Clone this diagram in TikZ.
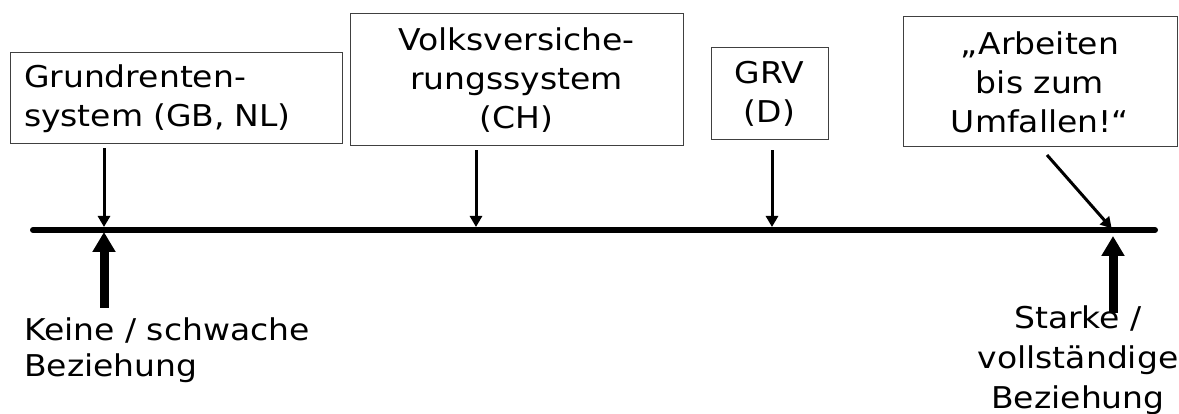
\documentclass[tikz,border=0pt]{standalone}
\usepackage{fontspec}
\setmainfont{DejaVu Sans}[FakeStretch=1.1]
\usetikzlibrary{arrows.meta}
\begin{document}
\begin{tikzpicture}[x=1pt,y=-1pt,
  box/.style={draw=black!75, line width=1pt, inner sep=0pt, align=center, font=\fontsize{30}{39}\selectfont},
  lbl/.style={inner sep=0pt},
  thinarrow/.style={line width=3pt, -{Triangle[width=12pt,length=11pt]}},
  thickarrow/.style={line width=9pt, -{Triangle[width=22pt,length=20pt]}},
  axisline/.style={line width=6pt, line cap=round}]
\useasboundingbox (0,0) rectangle (1179,414);
% axis
\coordinate (a0) at (33,230);
\coordinate (a1) at (1155,230);
\draw[axisline] (a0) -- (a1);
% points on the axis
\coordinate (p1) at (104,230);
\coordinate (p2) at (476,230);
\coordinate (p3) at (772,230);
\coordinate (p4) at (1113,230);
% boxes
\node[box, inner xsep=14pt, text width=304pt, align=left, minimum height=91pt] (b1) at (176,98.5) {Grundrenten-\\system (GB, NL)};
\node[box, minimum width=333pt, minimum height=132pt] (b2) at (516.5,80) {Volksversiche-\\rungssystem\\(CH)};
\node[box, minimum width=117pt, minimum height=92pt] (b3) at (769.5,94) {GRV\\(D)};
\node[box, minimum width=274pt, minimum height=130pt] (b4) at (1040,82) {„Arbeiten\\bis zum\\Umfallen!“};
% thin arrows
\draw[thinarrow, shorten <=4pt, shorten >=3pt] (b1.south -| p1) -- (p1);
\draw[thinarrow, shorten <=4pt, shorten >=3pt] (b2.south -| p2) -- (p2);
\draw[thinarrow, shorten <=10pt, shorten >=3pt] (b3.south -| p3) -- (p3);
\coordinate (d4) at (1047,155);
\draw[thinarrow, shorten >=2pt] (d4) -- (p4);
% bottom labels
\node[lbl, anchor=west, align=left, font=\fontsize{30}{36}\selectfont] (l1) at (24,350) {Keine / schwache\\Beziehung};
\node[lbl, align=center, font=\fontsize{30}{40}\selectfont] (l2) at (1078,360) {Starke /\\vollständige\\Beziehung};
% thick arrows
\coordinate (t1) at (104,308);
\coordinate (t2) at (1113,313);
\draw[thickarrow, shorten >=2pt] (t1) -- (p1);
\draw[thickarrow, shorten >=6pt] (t2) -- (p4);
\end{tikzpicture}
\end{document}
